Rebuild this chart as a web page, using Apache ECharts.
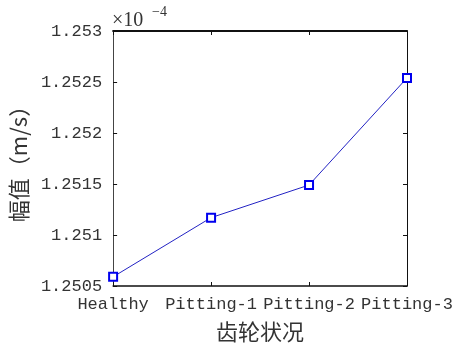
<!DOCTYPE html>
<html>
<head>
<meta charset="utf-8">
<script src="https://cdn.jsdelivr.net/npm/echarts@6/dist/echarts.min.js"></script>
<style>html,body{margin:0;padding:0;background:#fff;}#c{width:459px;height:351px;}</style>
</head>
<body>
<div id="c"></div>
<script>
var categories = ['Healthy', 'Pitting-1', 'Pitting-2', 'Pitting-3'];
var amplitude = [1.25059, 1.25117, 1.25149, 1.25254];
var yTicks = { min: 1.2505, max: 1.253, step: 0.0005 };

var chart = echarts.init(document.getElementById('c'));
var monoFont = 'Liberation Mono';
var cjkFont = 'Noto Sans CJK SC';
chart.setOption({
  animation: false,
  backgroundColor: '#fff',
  grid: { left: 111, top: 31, right: 52, bottom: 65, containLabel: false },
  xAxis: [{
    type: 'category', data: categories, boundaryGap: false, position: 'bottom',
    axisLine: { lineStyle: { color: '#111', width: 1.5 } },
    axisTick: { inside: true, length: 4, interval: 0, lineStyle: { color: '#111' } },
    axisLabel: { fontFamily: monoFont, fontSize: 17, color: '#333', margin: 10, interval: 0, hideOverlap: false },
    name: '齿轮状况', nameLocation: 'middle', nameGap: 35,
    nameTextStyle: { fontFamily: cjkFont, fontSize: 22, color: '#333' },
    splitLine: { show: false }
  }, {
    type: 'category', data: categories, boundaryGap: false, position: 'top',
    axisLine: { lineStyle: { color: '#111', width: 2 } },
    axisTick: { inside: true, length: 4, interval: 0, lineStyle: { color: '#111' } },
    axisLabel: { show: false }, splitLine: { show: false }
  }],
  yAxis: [{
    type: 'value', position: 'left', min: yTicks.min, max: yTicks.max, interval: yTicks.step,
    axisLine: { show: true, lineStyle: { color: '#444', width: 1 } },
    axisTick: { show: true, inside: true, length: 4, lineStyle: { color: '#111' } },
    axisLabel: { fontFamily: monoFont, fontSize: 17, color: '#333', margin: 11,
      formatter: function (v) { return String(parseFloat(v.toFixed(4))); } },
    splitLine: { show: false },
    name: '幅值（m/s）', nameLocation: 'middle', nameGap: 78, nameRotate: 90,
    nameTextStyle: { fontFamily: cjkFont, fontSize: 22, color: '#333' }
  }, {
    type: 'value', position: 'right', min: yTicks.min, max: yTicks.max, interval: yTicks.step,
    axisLine: { show: true, lineStyle: { color: '#111', width: 1 } },
    axisTick: { show: true, inside: true, length: 4, lineStyle: { color: '#111' } },
    axisLabel: { show: false }, splitLine: { show: false }
  }],
  graphic: [
    { type: 'text', left: 112, top: 11, style: { text: '×10', font: '20px "Liberation Serif"', fill: '#333' } },
    { type: 'text', left: 152, top: 5, style: { text: '−4', font: '14px "Liberation Serif"', fill: '#333' } }
  ],
  series: [{
    type: 'line', data: amplitude, xAxisIndex: 0, yAxisIndex: 0,
    symbol: 'rect', symbolSize: 8,
    lineStyle: { color: '#2323c4', width: 1 },
    itemStyle: { color: '#fff', borderColor: '#0000ee', borderWidth: 2 }
  }]
});
</script>
</body>
</html>
